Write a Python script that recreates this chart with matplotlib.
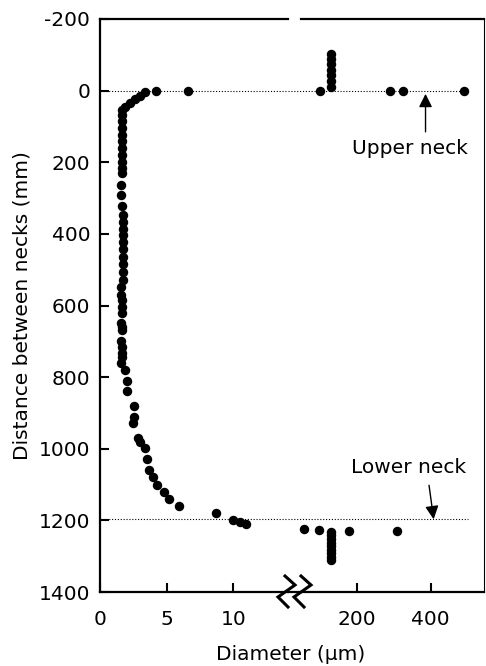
import matplotlib
matplotlib.use("Agg")
import matplotlib.pyplot as plt
from matplotlib.lines import Line2D

# ---------------- data ----------------
# left (fine-diameter) segment: diameter (um), distance between necks (mm)
left_diameter = [6.6, 4.2, 3.35, 2.97, 2.6, 2.27, 1.84, 1.67,
                 1.67, 1.65, 1.65, 1.65, 1.65, 1.65, 1.65, 1.65, 1.65, 1.65,
                 1.6, 1.6, 1.65, 1.7, 1.7, 1.7, 1.7, 1.7, 1.7, 1.7, 1.7, 1.7,
                 1.7, 1.55, 1.6, 1.65, 1.65, 1.65, 1.6, 1.65, 1.65, 1.6, 1.65,
                 1.65, 1.65, 1.6, 1.84, 2.04, 2.04, 2.52, 2.52, 2.47, 2.84,
                 3.02, 3.35, 3.52, 3.67, 3.97, 4.3, 4.8, 5.15, 5.93, 8.73,
                 9.99, 10.5, 10.94]
left_distance = [0, 2, 5, 15, 24, 35, 45, 54,
                 68, 86, 105, 124, 142, 161, 180, 199, 217, 231,
                 264, 292, 321, 348, 366, 385, 403, 422, 443, 464, 484, 506,
                 529, 549, 571, 585, 604, 620, 648, 661, 669, 699, 717,
                 734, 745, 760, 780, 810, 838, 881, 911, 929, 969,
                 981, 999, 1030, 1060, 1080, 1100, 1120, 1139, 1160, 1179,
                 1199, 1204, 1211]

# right (coarse-diameter) segment
right_diameter = [101, 130, 130, 130, 130, 130, 130, 130, 290, 324, 491,
                  57, 99, 130, 130, 130, 130, 130, 130, 130, 130, 130, 180, 310]
right_distance = [0, -11, -27, -44, -58, -73, -87, -101, 0, 0, 0,
                  1225, 1227, 1232, 1242, 1252, 1262, 1272, 1282, 1292, 1302,
                  1312, 1229, 1229]

neck_positions = [0, 1195]
neck_labels = ["Upper neck", "Lower neck"]

left_xticks = [0, 5, 10]
right_xticks = [200, 400]
yticks = [-200, 0, 200, 400, 600, 800, 1000, 1200, 1400]
ytick_labels = ["-200", "0", "200", "400", "600", "800", "1000", "1200", "1400"]

# ---------------- figure ----------------
plt.rcParams["font.family"] = ["DejaVu Sans"]
FS = 14.5
W, H = 486, 666
fig = plt.figure(figsize=(4.86, 6.66), dpi=100)


def fx(px):
    return px / W


def fy(py):
    return 1 - py / H


top, bottom = 19, 592
ax1 = fig.add_axes([fx(100), fy(bottom), fx(288) - fx(100), fy(top) - fy(bottom)])
ax2 = fig.add_axes([fx(301), fy(bottom), fx(484) - fx(301), fy(top) - fy(bottom)])

for ax in (ax1, ax2):
    ax.set_ylim(1400, -200)
    ax.set_facecolor("none")

ax1.set_xlim(0, 14.1)
ax2.set_xlim(49.5, 544)

# markers
ax1.plot(left_diameter, left_distance, "o", color="black", ms=5.8,
         clip_on=False, zorder=3)
ax2.plot(right_diameter, right_distance, "o", color="black", ms=5.8,
         clip_on=False, zorder=3)

# neck dotted lines
dot = (0, (1, 1.6))
for y in neck_positions:
    ax1.axhline(y, ls=dot, lw=0.8, color="black", zorder=1)
    ax2.hlines(y, 14.3, 501, linestyles=dot, lw=0.8, color="black",
               clip_on=False, zorder=1)

# spines
ax1.spines["right"].set_visible(False)
ax2.spines["left"].set_visible(False)
for s in ("top", "left", "bottom"):
    ax1.spines[s].set_linewidth(1.6)
for s in ("top", "bottom"):
    ax2.spines[s].set_linewidth(1.6)
ax2.spines["right"].set_linewidth(0.8)

# ticks
ax1.set_yticks(yticks)
ax1.set_yticklabels(ytick_labels)
ax1.set_xticks(left_xticks)
ax1.set_xticklabels([str(v) for v in left_xticks])
ax2.set_xticks(right_xticks)
ax2.set_xticklabels([str(v) for v in right_xticks])
ax1.tick_params(axis="y", direction="in", length=6.5, width=1.5,
                labelsize=FS, pad=7)
ax1.tick_params(axis="x", direction="in", length=6.5, width=1.5,
                labelsize=FS, pad=13)
ax2.tick_params(axis="x", direction="in", length=6.5, width=1.5,
                labelsize=FS, pad=13)
ax2.tick_params(axis="y", left=False, right=False, labelleft=False)

# labels
ax1.set_ylabel("Distance between necks (mm)", fontsize=FS, va="center")
ax1.yaxis.set_label_coords((22 - 100) / 188, 0.5)
ax1.set_xlabel("Diameter (\u03bcm)", fontsize=FS, va="center")
ax1.xaxis.set_label_coords((291 - 100) / 188, (592 - 655) / 573)

# annotations
ax2.annotate("", xy=(386, 9), xytext=(386, 115),
             arrowprops=dict(arrowstyle="-|>", mutation_scale=20, lw=1.0,
                             color="black", shrinkA=0, shrinkB=0))
ax2.text(342.7, 163, neck_labels[0], fontsize=FS, ha="center", va="center")
ax2.annotate("", xy=(408, 1197), xytext=(395.5, 1102),
             arrowprops=dict(arrowstyle="-|>", mutation_scale=20, lw=1.0,
                             color="black", shrinkA=0, shrinkB=0))
ax2.text(341, 1051, neck_labels[1], fontsize=FS, ha="center", va="center")

# bottom axis line across the break, and break marks
fig.add_artist(Line2D([fx(288), fx(301)], [fy(592), fy(592)], lw=1.6,
                      color="black"))
for dx in (0, 16):
    xs = [285 + dx, 295 + dx, 278 + dx, 288 + dx]
    ys = [576, 585, 597, 607]
    fig.add_artist(Line2D([fx(v) for v in xs], [fy(v) for v in ys], lw=2.2,
                          color="black", solid_joinstyle="miter"))

fig.savefig("out.png", dpi=100)
